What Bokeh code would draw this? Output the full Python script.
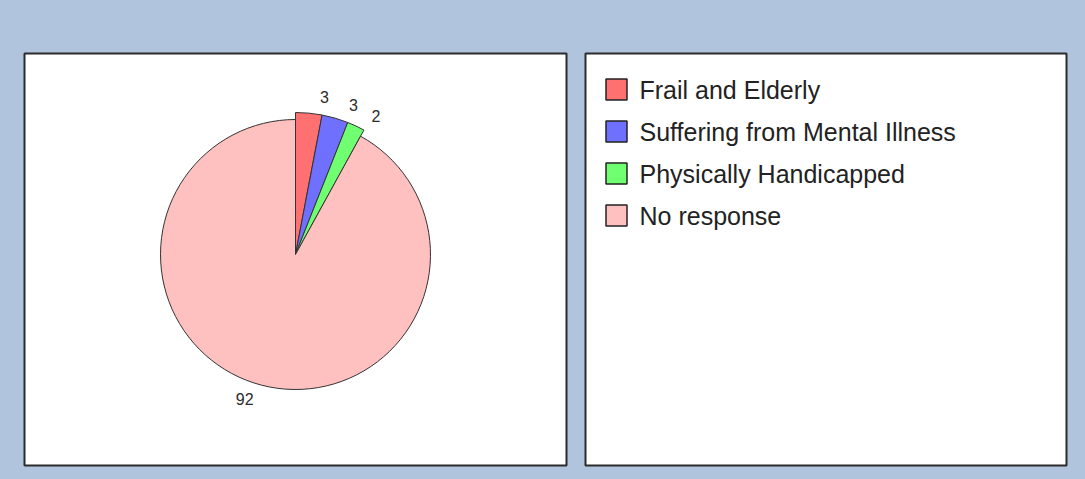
import numpy as np
from bokeh.plotting import figure
from bokeh.models import Range1d, ColumnDataSource, GlobalInlineStyleSheet
from bokeh.core.properties import value
from bokeh.embed import file_html
from bokeh.resources import INLINE

# ---- data ----
categories = ["Frail and Elderly", "Suffering from Mental Illness", "Physically Handicapped", "No response"]
percentages = [3, 3, 2, 92]
colors = ["#FF7070", "#7070FF", "#70FF70", "#FFC0C0"]

BG = "#B0C4DE"
W, H = 1085, 479
OX, OY = 0, 0


def fx(X):
    return X - OX


def fy(Y):
    return H - (Y - OY)


p = figure(width=W, height=H, output_backend="svg", toolbar_location=None,
           x_range=Range1d(0, W), y_range=Range1d(0, H), min_border=0,
           background_fill_color=BG, border_fill_color=BG, outline_line_color=None)
p.axis.visible = False
p.grid.visible = False
p.stylesheets = [GlobalInlineStyleSheet(css="body{background:%s;}" % BG)]

# panels
p.quad(left=[fx(24), fx(585)], right=[fx(566), fx(1066)],
       top=[fy(53), fy(53)], bottom=[fy(465), fy(465)],
       fill_color="white", line_color="#2b2b2b", line_width=2)

# pie
cx, cy = fx(295), fy(254)
vals = np.array(percentages, dtype=float)
ends = 90 - np.cumsum(vals) / vals.sum() * 360
starts = np.concatenate([[90], ends[:-1]])
radii = np.where(vals < 50, 142, 135)
src = ColumnDataSource(dict(start=np.radians(starts), end=np.radians(ends),
                            r=radii, color=colors, cat=categories))
p.wedge(x=cx, y=cy, radius="r", start_angle="start", end_angle="end",
        direction="clock", fill_color="color", line_color="#333333",
        line_width=1, source=src)

mids = (starts + ends) / 2 - 5
lr = radii + 18
lx = cx + lr * np.cos(np.radians(mids))
ly = cy + lr * np.sin(np.radians(mids))
p.text(x=lx, y=ly, text=[str(v) for v in percentages],
       text_align="center", text_baseline="middle",
       text_font=value("Liberation Sans"), text_font_size="16px",
       text_color="#2a2a2a")

# legend
n = len(categories)
idx = np.arange(n)
row_y = fy(89) - idx * 42
p.rect(x=[fx(616)] * n, y=row_y, width=21, height=21,
       fill_color=colors, line_color="#222222", line_width=1.5)
p.text(x=[fx(639)] * n, y=row_y, text=categories,
       text_align="left", text_baseline="middle",
       text_font=value("Liberation Sans"), text_font_size="25px",
       text_color="#222222")

open("out.html", "w").write(file_html(p, INLINE))
